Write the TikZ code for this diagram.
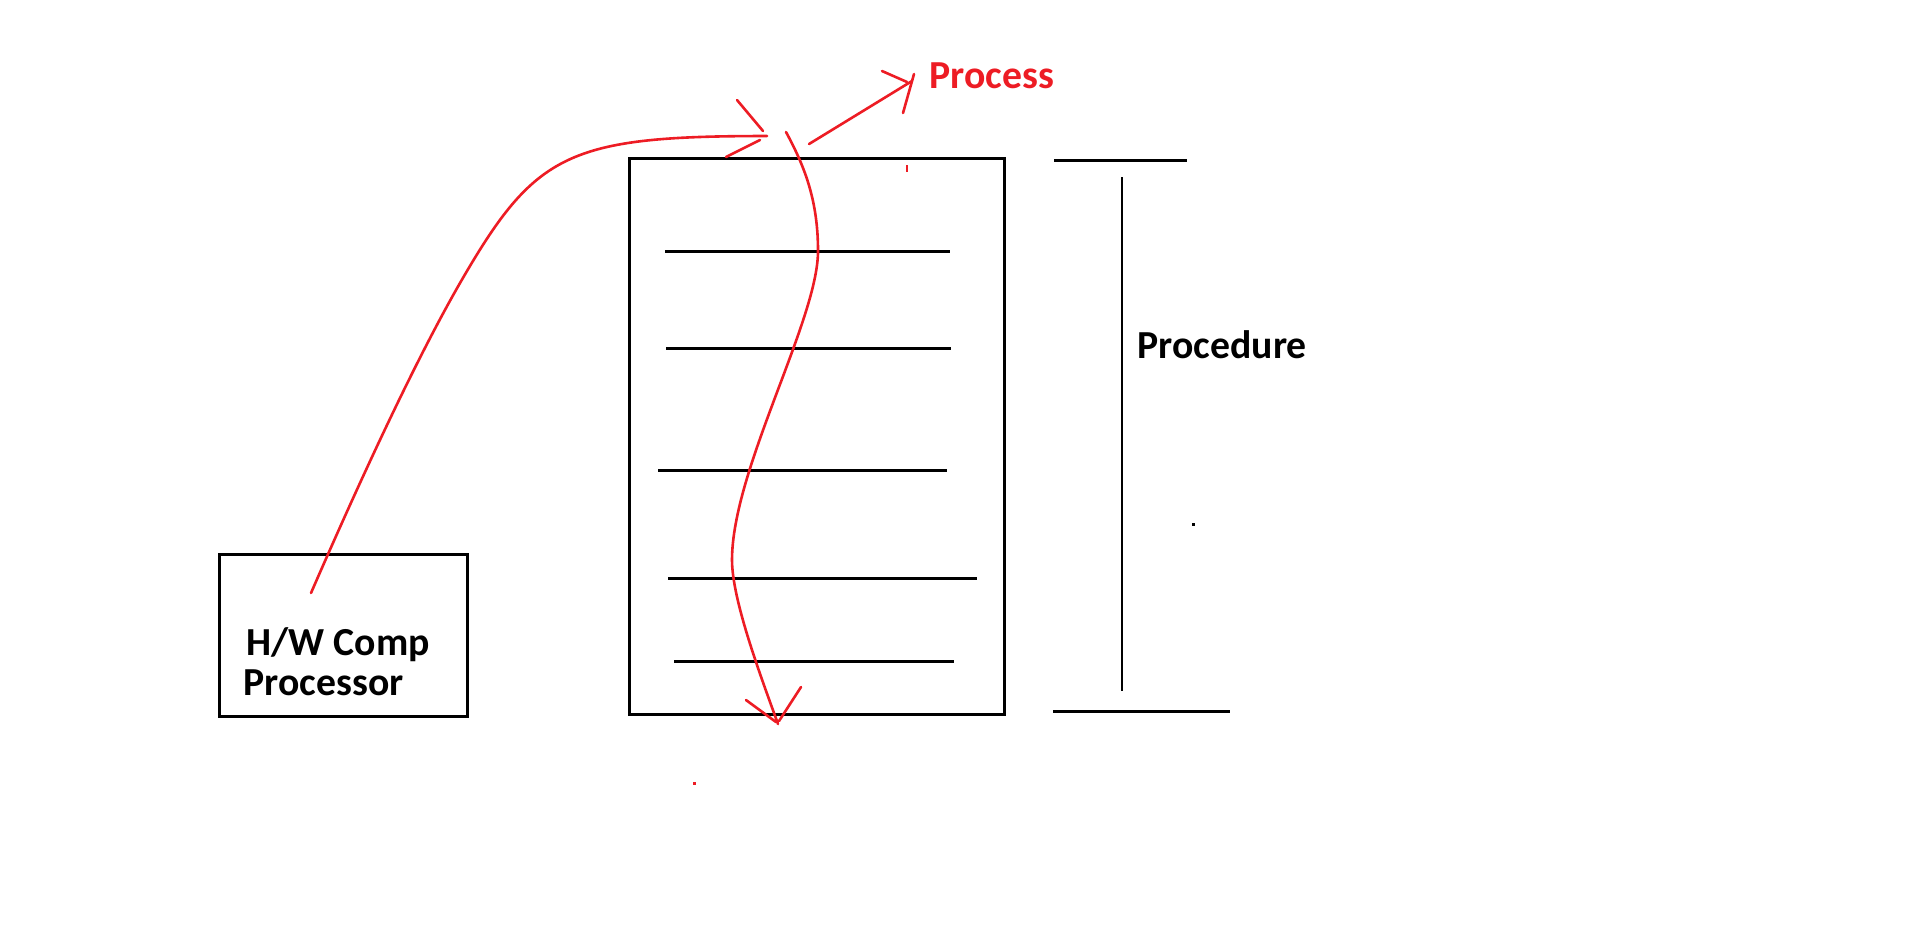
\documentclass[tikz,border=0pt]{standalone}
\usepackage{fontspec}
\setmainfont{Carlito}
\definecolor{paintred}{RGB}{237,28,36}
\begin{document}
\begin{tikzpicture}[x=0.01cm,y=-0.01cm,
  blk/.style={line width=0.03cm},
  pen/.style={paintred,line width=0.026cm,line cap=round},
  lbl/.style={font=\fontsize{11.3pt}{11.6pt}\selectfont\bfseries,inner sep=0pt,anchor=base west}]
\useasboundingbox (0,0) rectangle (1913,947);

\node[draw,blk,minimum width=2.484cm,minimum height=1.624cm] (hw) at (343.5,635.5) {};
\node[draw,blk,minimum width=3.75cm,minimum height=5.558cm] (proc) at (816.8,436.4) {};

\draw[blk] (665,251) -- (950,251);
\draw[blk] (666,348) -- (951,348);
\draw[blk] (658,470) -- (947,470);
\draw[blk] (668,578) -- (977,578);
\draw[blk] (674,661) -- (954,661);

\node[lbl] (hwtxt) at (246,655) {H/W Comp};
\node[lbl] (cpu) at (243,695) {Processor};
\node[lbl] (procedure) at (1137,358) {Procedure};
\node[lbl,text=paintred] (process) at (929,88) {Process};

% bracket
\draw[blk] (1054,160) -- (1187,160);
\draw[line width=0.027cm] (1122,177) -- (1122,691);
\draw[blk] (1053,711) -- (1230,711);

% red arrows
\coordinate (hwout) at (311,593);
\coordinate (flowin) at (767,136);
\draw[pen] (hwout) .. controls (351,501) and (410,370) .. (460,283) .. controls (535,153) and (567,136) .. (flowin);
\draw[pen] (737,100) -- (763,131);
\draw[pen] (760,140) -- (726,157);

\coordinate (flowtop) at (786,132);
\coordinate (flowend) at (778,724);
\draw[pen] (flowtop) .. controls (805,167) and (818,201) .. (818,251) .. controls (818,320) and (732,470) .. (732,560) .. controls (732,600) and (761,677) .. (flowend);
\draw[pen] (746,700) -- (776,722);
\draw[pen] (801,687) -- (779,721);

\coordinate (outstart) at (809,144);
\coordinate (outtip) at (912,81);
\draw[pen] (outstart) -- (outtip);
\draw[pen] (882,71) -- (907,82);
\draw[pen] (903,113) -- (914,74);

% stray marks
\draw[pen,line cap=butt] (907,165) -- (907,172);
\fill[paintred] (692.5,781.5) rectangle (695.5,784.5);
\fill (1191.8,523.2) rectangle (1194.8,526.2);
\end{tikzpicture}
\end{document}
